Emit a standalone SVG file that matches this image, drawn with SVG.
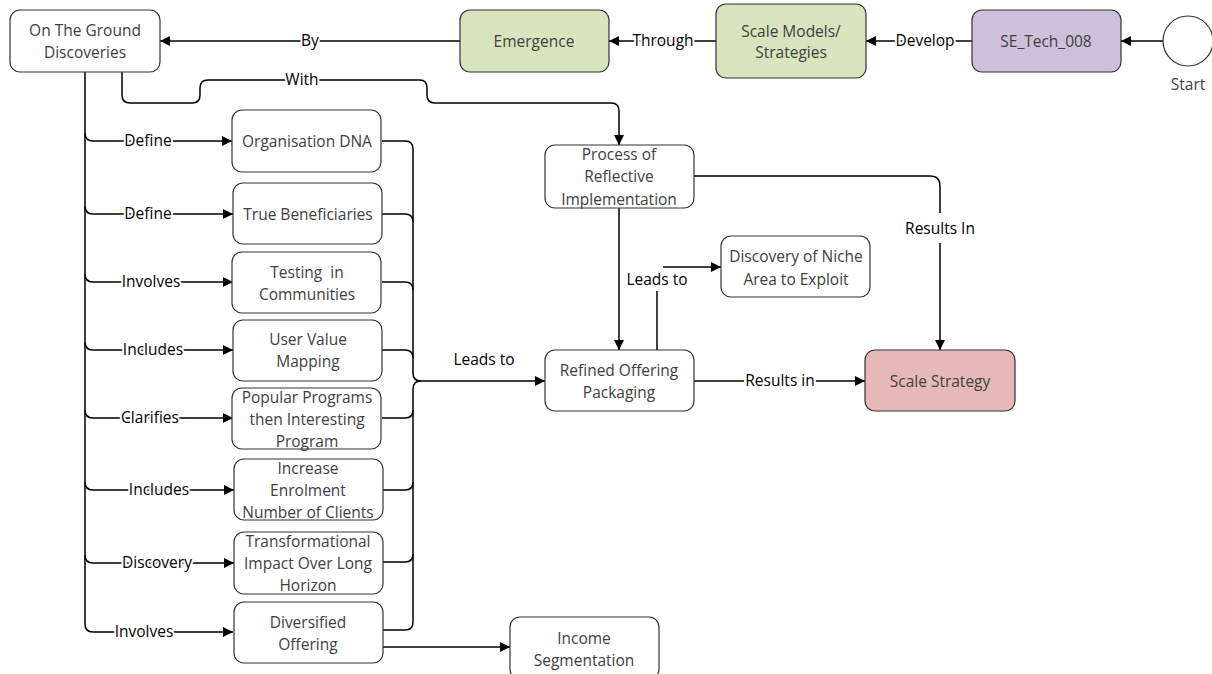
<svg xmlns="http://www.w3.org/2000/svg" width="1212" height="674" viewBox="0 0 1212 674">
  <style>
    .box { fill: #ffffff; stroke: #333333; stroke-width: 1.2; }
    .green { fill: #d7e4bd; }
    .purple { fill: #ccc0da; }
    .pink { fill: #e6b9b8; }
    .nt { font-family: "Open Sans", "Liberation Sans", sans-serif; font-size: 15.5px; fill: #404040; text-anchor: middle; }
    .et { font-family: "Open Sans", "Liberation Sans", sans-serif; font-size: 15.5px; fill: #000000; text-anchor: middle; }
    .halo { stroke: #ffffff; stroke-width: 4; paint-order: stroke; stroke-linejoin: round; }
    .ln { fill: none; stroke: #000000; stroke-width: 1.5; }
  </style>
  <defs>
    <marker id="arr" viewBox="0 0 10 10" refX="10" refY="5" markerWidth="12" markerHeight="10" orient="auto" markerUnits="userSpaceOnUse">
      <path d="M0,0 L10,5 L0,10 z" fill="#000000"/>
    </marker>
  </defs>
  <rect width="1212" height="674" fill="#ffffff"/>

  <!-- connectors -->
  <g id="connectors">
    <!-- top chain -->
    <path class="ln" d="M1163 41 H1121" marker-end="url(#arr)"/>
    <path class="ln" d="M972 41 H866" marker-end="url(#arr)"/>
    <path class="ln" d="M716 41 H609" marker-end="url(#arr)"/>
    <path class="ln" d="M460 41 H160" marker-end="url(#arr)"/>
    <!-- With -->
    <path class="ln" d="M122 72 V95 Q122 103 130 103 H192 Q200 103 200 95 V88 Q200 80 208 80 H420 Q427 80 427 88 V95 Q427 103 435 103 H611 Q619 103 619 111 V145" marker-end="url(#arr)"/>
    <!-- left trunk and branches -->
    <path class="ln" d="M85 72 V624 Q85 632 93 632 H233" marker-end="url(#arr)"/>
    <path class="ln" d="M85 133 Q85 141 93 141 H232" marker-end="url(#arr)"/>
    <path class="ln" d="M85 206 Q85 214 93 214 H233" marker-end="url(#arr)"/>
    <path class="ln" d="M85 274 Q85 282 93 282 H233" marker-end="url(#arr)"/>
    <path class="ln" d="M85 342 Q85 350 93 350 H233" marker-end="url(#arr)"/>
    <path class="ln" d="M85 410 Q85 418 93 418 H233" marker-end="url(#arr)"/>
    <path class="ln" d="M85 482 Q85 490 93 490 H234" marker-end="url(#arr)"/>
    <path class="ln" d="M85 555 Q85 563 93 563 H234" marker-end="url(#arr)"/>
    <!-- right bus into Refined Offering Packaging -->
    <path class="ln" d="M382 141 H405 Q413 141 413 149 V373 Q413 381 421 381 H545" marker-end="url(#arr)"/>
    <path class="ln" d="M382 214 H405 Q413 214 413 222"/>
    <path class="ln" d="M382 282 H405 Q413 282 413 290"/>
    <path class="ln" d="M382 350 H405 Q413 350 413 358"/>
    <path class="ln" d="M383 630 H405 Q413 630 413 622 V389 Q413 381 421 381"/>
    <path class="ln" d="M382 418 H405 Q413 418 413 410"/>
    <path class="ln" d="M383 490 H405 Q413 490 413 482"/>
    <path class="ln" d="M383 562 H405 Q413 562 413 554"/>
    <!-- Diversified Offering to Income Segmentation -->
    <path class="ln" d="M383 647 H510" marker-end="url(#arr)"/>
    <!-- Process to Refined -->
    <path class="ln" d="M619 208 V350" marker-end="url(#arr)"/>
    <!-- Refined to Niche -->
    <path class="ln" d="M657 350 V291"/>
    <path class="ln" d="M663 267 H721" marker-end="url(#arr)"/>
    <!-- Process to Scale Strategy -->
    <path class="ln" d="M694 176 H930 Q940 176 940 186 V213"/>
    <path class="ln" d="M940 243 V350" marker-end="url(#arr)"/>
    <!-- Refined to Scale Strategy -->
    <path class="ln" d="M694 381 H865" marker-end="url(#arr)"/>

    <!-- connector labels -->
    <text class="et halo" x="310" y="46">By</text>
    <text class="et halo" x="663" y="46">Through</text>
    <text class="et halo" x="925" y="46">Develop</text>
    <text class="et halo" x="302" y="85">With</text>
    <text class="et halo" x="148" y="146">Define</text>
    <text class="et halo" x="148" y="219">Define</text>
    <text class="et halo" x="151" y="287">Involves</text>
    <text class="et halo" x="153" y="355">Includes</text>
    <text class="et halo" x="150" y="423">Clarifies</text>
    <text class="et halo" x="159" y="495">Includes</text>
    <text class="et halo" x="157" y="568">Discovery</text>
    <text class="et halo" x="144" y="637">Involves</text>
    <text class="et" x="484" y="365">Leads to</text>
    <text class="et" x="657" y="285">Leads to</text>
    <text class="et" x="940" y="234">Results In</text>
    <rect x="744" y="373" width="72" height="16" fill="#ffffff"/>
    <text class="et" x="780" y="386">Results in</text>
  </g>

  <!-- nodes -->
  <g id="n-ground">
    <rect class="box" x="10" y="10" width="150" height="62" rx="10"/>
    <text class="nt" x="85" y="36">On The Ground</text>
    <text class="nt" x="85" y="58">Discoveries</text>
  </g>
  <g id="n-emergence">
    <rect class="box green" x="460" y="10" width="149" height="62" rx="10"/>
    <text class="nt" x="534" y="47">Emergence</text>
  </g>
  <g id="n-scale-models">
    <rect class="box green" x="716" y="4" width="150" height="74" rx="10"/>
    <text class="nt" x="791" y="37">Scale Models/</text>
    <text class="nt" x="791" y="58">Strategies</text>
  </g>
  <g id="n-setech">
    <rect class="box purple" x="972" y="10" width="149" height="62" rx="10"/>
    <text class="nt" x="1046" y="47">SE_Tech_008</text>
  </g>
  <g id="n-start">
    <circle class="box" cx="1188" cy="41" r="25"/>
    <text class="nt" x="1188" y="90">Start</text>
  </g>
  <g id="n-orgdna">
    <rect class="box" x="232" y="110" width="149" height="62" rx="10"/>
    <text class="nt" x="307" y="147">Organisation DNA</text>
  </g>
  <g id="n-beneficiaries">
    <rect class="box" x="233" y="183" width="149" height="61" rx="10"/>
    <text class="nt" x="308" y="220">True Beneficiaries</text>
  </g>
  <g id="n-testing">
    <rect class="box" x="232" y="252" width="149" height="61" rx="10"/>
    <text class="nt" x="307" y="278">Testing&#160; in</text>
    <text class="nt" x="307" y="300">Communities</text>
  </g>
  <g id="n-uservalue">
    <rect class="box" x="233" y="320" width="149" height="61" rx="10"/>
    <text class="nt" x="308" y="345">User Value</text>
    <text class="nt" x="308" y="367">Mapping</text>
  </g>
  <g id="n-popular">
    <rect class="box" x="232" y="388" width="149" height="61" rx="10"/>
    <text class="nt" x="307" y="403">Popular Programs</text>
    <text class="nt" x="307" y="425">then Interesting</text>
    <text class="nt" x="307" y="447">Program</text>
  </g>
  <g id="n-enrolment">
    <rect class="box" x="234" y="459" width="149" height="61" rx="10"/>
    <text class="nt" x="308" y="474">Increase</text>
    <text class="nt" x="308" y="496">Enrolment</text>
    <text class="nt" x="308" y="518">Number of Clients</text>
  </g>
  <g id="n-transformational">
    <rect class="box" x="234" y="532" width="149" height="62" rx="10"/>
    <text class="nt" x="308" y="547">Transformational</text>
    <text class="nt" x="308" y="569">Impact Over Long</text>
    <text class="nt" x="308" y="591">Horizon</text>
  </g>
  <g id="n-diversified">
    <rect class="box" x="234" y="602" width="149" height="61" rx="10"/>
    <text class="nt" x="308" y="628">Diversified</text>
    <text class="nt" x="308" y="650">Offering</text>
  </g>
  <g id="n-income">
    <rect class="box" x="510" y="617" width="149" height="62" rx="10"/>
    <text class="nt" x="584" y="644">Income</text>
    <text class="nt" x="584" y="666">Segmentation</text>
  </g>
  <g id="n-process">
    <rect class="box" x="545" y="145" width="149" height="63" rx="10"/>
    <text class="nt" x="619" y="160">Process of</text>
    <text class="nt" x="619" y="182">Reflective</text>
    <text class="nt" x="619" y="205">Implementation</text>
  </g>
  <g id="n-niche">
    <rect class="box" x="721" y="236" width="149" height="61" rx="10"/>
    <text class="nt" x="796" y="262">Discovery of Niche</text>
    <text class="nt" x="796" y="285">Area to Exploit</text>
  </g>
  <g id="n-refined">
    <rect class="box" x="545" y="350" width="149" height="61" rx="10"/>
    <text class="nt" x="619" y="376">Refined Offering</text>
    <text class="nt" x="619" y="398">Packaging</text>
  </g>
  <g id="n-scale-strategy">
    <rect class="box pink" x="865" y="350" width="150" height="61" rx="10"/>
    <text class="nt" x="940" y="387">Scale Strategy</text>
  </g>
</svg>
